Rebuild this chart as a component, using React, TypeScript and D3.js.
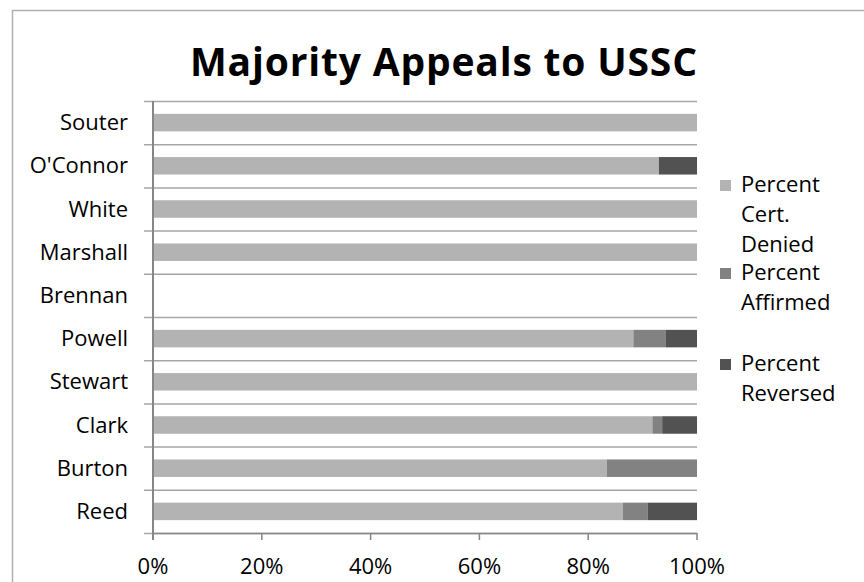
import React from "react";
import * as d3 from "d3";

const categories = ["Souter", "O'Connor", "White", "Marshall", "Brennan", "Powell", "Stewart", "Clark", "Burton", "Reed"];
const certDenied = [100, 93, 100, 100, 0, 88.3, 100, 91.8, 83.4, 86.4];
const affirmed = [0, 0, 0, 0, 0, 5.9, 0, 1.8, 16.6, 4.5];
const reversed = [0, 7, 0, 0, 0, 5.8, 0, 6.4, 0, 9.1];
const seriesNames = ["Percent Cert. Denied", "Percent Affirmed", "Percent Reversed"];
const legendLines = [["Percent", "Cert.", "Denied"], ["Percent", "Affirmed"], ["Percent", "Reversed"]];
const xTicks = [0, 20, 40, 60, 80, 100];
const colors = ["#b3b3b3", "#828282", "#525252"];

const W = 864, H = 582;
const plot = { left: 153, right: 697, top: 101, bottom: 533 };
const FONT = "'Open Sans', Lato, sans-serif";

export default function App() {
  const x = d3.scaleLinear().domain([0, 100]).range([plot.left, plot.right]);
  const y = d3.scaleBand<string>().domain(categories).range([plot.top, plot.bottom]).paddingInner(0.595).paddingOuter(0.2975);
  const yb = d3.scaleBand<string>().domain(categories).range([plot.top, plot.bottom]);
  const rows = categories.map((c, i) => ({ c, vals: [certDenied[i], affirmed[i], reversed[i]] }));
  const stack = d3.stack<any>().keys(["0", "1", "2"]).value((d, k) => d.vals[+k]);
  const stacked = stack(rows);
  const boundaries = categories.map((c) => yb(c)!).concat([plot.bottom]);
  const legendY = [192, 280, 371];

  return (
    <svg width={W} height={H} style={{ position: "absolute", left: 0, top: 0 }}>
      <rect x={0} y={0} width={W} height={H} fill="#fff" />
      <rect x={12.5} y={10.5} width={900} height={700} fill="none" stroke="#b0b0b0" strokeWidth={1.5} />
      <text x={190} y={76} textLength={507} lengthAdjust="spacing" fontFamily={FONT} fontWeight="bold" fontSize={39} fill="#000">Majority Appeals to USSC</text>
      {boundaries.map((b, i) => (
        <line key={i} x1={144} x2={plot.right} y1={b + 0.5} y2={b + 0.5} stroke="#a6a6a6" strokeWidth={1.5} />
      ))}
      {stacked.map((s, si) => (
        <g key={si} fill={colors[si]}>
          {s.map((d, i) => (d[1] - d[0] > 0 ? (
            <rect key={i} x={x(d[0])} y={y(categories[i])} width={x(d[1]) - x(d[0])} height={y.bandwidth()} />
          ) : null))}
        </g>
      ))}
      <line x1={plot.left} x2={plot.left} y1={plot.top} y2={plot.bottom + 7} stroke="#868686" strokeWidth={2} />
      <line x1={plot.left} x2={plot.right} y1={plot.bottom + 0.5} y2={plot.bottom + 0.5} stroke="#868686" strokeWidth={1.5} />
      {xTicks.map((t) => (
        <g key={t}>
          <line x1={x(t)} x2={x(t)} y1={plot.bottom} y2={plot.bottom + 7} stroke="#868686" strokeWidth={1.5} />
          <text x={x(t)} y={574} textAnchor="middle" fontFamily={FONT} fontSize={22} fill="#000">{t}%</text>
        </g>
      ))}
      {categories.map((c) => (
        <text key={c} x={128} y={yb(c)! + yb.bandwidth() / 2 + 7.5} textAnchor="end" fontFamily={FONT} fontSize={22} fill="#000">{c}</text>
      ))}
      {seriesNames.map((n, i) => (
        <g key={n}>
          <rect x={720} y={legendY[i] - 12} width={11} height={11} fill={colors[i]} />
          {legendLines[i].map((l, j) => (
            <text key={j} x={741} y={legendY[i] + j * 30} fontFamily={FONT} fontSize={22} fill="#000">{l}</text>
          ))}
        </g>
      ))}
    </svg>
  );
}
